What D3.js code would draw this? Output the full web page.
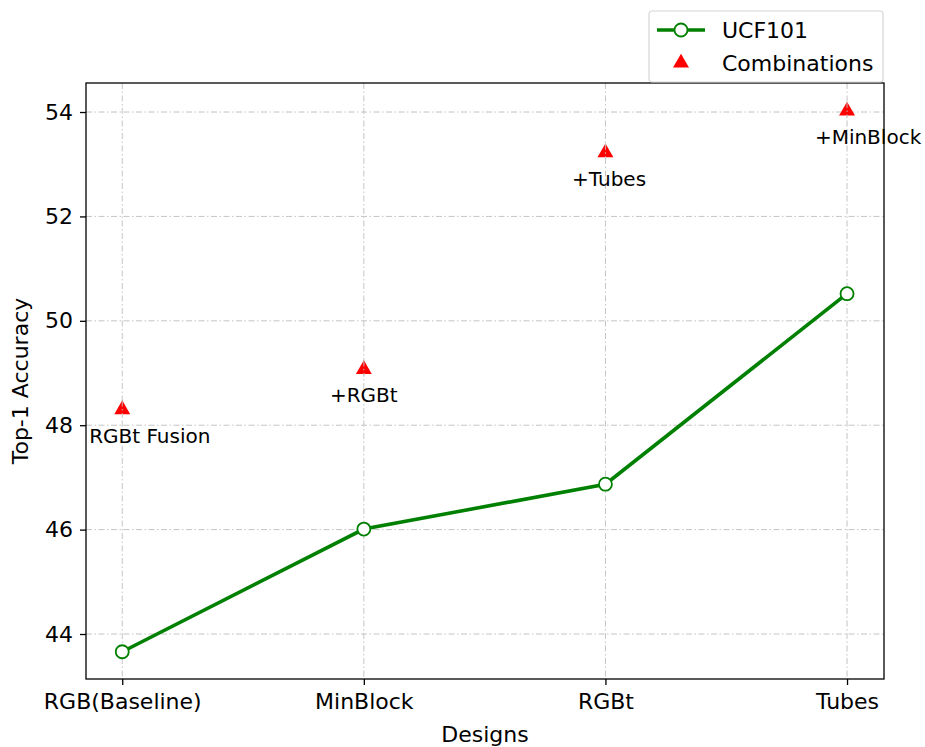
<!DOCTYPE html>
<html>
<head>
<meta charset="utf-8">
<script src="https://cdn.jsdelivr.net/npm/d3@7"></script>
<style>
  body { margin: 0; background: #fff; }
  svg { font-family: "DejaVu Sans", sans-serif; }
</style>
</head>
<body>
<div id="app"></div>
<script>
const designs = ['RGB(Baseline)', 'MinBlock', 'RGBt', 'Tubes'];
const ucf101 = [43.66, 46.01, 46.87, 50.52];
const combos = [48.30, 49.07, 53.22, 54.02];
const comboLabels = ['RGBt Fusion', '+RGBt', '+Tubes', '+MinBlock'];
const yTicks = [44, 46, 48, 50, 52, 54];

const width = 925;
const height = 747;
const margin = { top: 83, right: 41, bottom: 68, left: 86 };

// label nudges (data units), first and last are shifted right in the original
const labelDx = [0.114, 0, 0.015, 0.087];

const svg = d3.select('#app')
  .append('svg')
  .attr('width', width)
  .attr('height', height);

const xScale = d3.scaleLinear()
  .domain([-0.15, 3.153])
  .range([margin.left, width - margin.right]);

const yScale = d3.scaleLinear()
  .domain([43.138, 54.556])
  .range([height - margin.bottom, margin.top]);

const plotW = width - margin.left - margin.right;
const plotH = height - margin.top - margin.bottom;
const gridDash = '6,2.5,1.5,2.5';

// grid
const grid = svg.append('g');
grid.selectAll('.vg')
  .data(designs)
  .enter()
  .append('line')
  .attr('x1', (d, i) => xScale(i))
  .attr('x2', (d, i) => xScale(i))
  .attr('y1', margin.top)
  .attr('y2', height - margin.bottom)
  .attr('stroke', '#c4c4c4')
  .attr('stroke-width', 1)
  .attr('stroke-dasharray', gridDash);
grid.selectAll('.hg')
  .data(yTicks)
  .enter()
  .append('line')
  .attr('x1', margin.left)
  .attr('x2', width - margin.right)
  .attr('y1', d => yScale(d))
  .attr('y2', d => yScale(d))
  .attr('stroke', '#c4c4c4')
  .attr('stroke-width', 1)
  .attr('stroke-dasharray', gridDash);

// triangles (scatter)
const tri = d3.symbol().type(d3.symbolTriangle).size(110);
svg.append('g')
  .selectAll('path')
  .data(combos)
  .enter()
  .append('path')
  .attr('d', tri)
  .attr('transform', (d, i) => `translate(${xScale(i)},${yScale(d)})`)
  .attr('fill', 'red');

// grid sits above the scatter in matplotlib, redraw a short piece over each triangle
svg.append('g')
  .selectAll('line')
  .data(combos)
  .enter()
  .append('line')
  .attr('x1', (d, i) => xScale(i))
  .attr('x2', (d, i) => xScale(i))
  .attr('y1', d => yScale(d) - 9)
  .attr('y2', d => yScale(d) + 7)
  .attr('stroke', '#c4c4c4')
  .attr('stroke-width', 1)
  .attr('stroke-dasharray', gridDash)
  .attr('opacity', 0.9);

svg.append('g')
  .selectAll('text')
  .data(combos)
  .enter()
  .append('text')
  .attr('x', (d, i) => xScale(i + labelDx[i]))
  .attr('y', d => yScale(d - 0.5))
  .attr('dy', '0.35em')
  .attr('text-anchor', 'middle')
  .attr('font-size', 20)
  .attr('fill', '#000')
  .text((d, i) => comboLabels[i]);

// line
const line = d3.line()
  .x((d, i) => xScale(i))
  .y(d => yScale(d));

svg.append('path')
  .datum(ucf101)
  .attr('d', line)
  .attr('fill', 'none')
  .attr('stroke', 'green')
  .attr('stroke-width', 3.6);

svg.append('g')
  .selectAll('circle')
  .data(ucf101)
  .enter()
  .append('circle')
  .attr('cx', (d, i) => xScale(i))
  .attr('cy', d => yScale(d))
  .attr('r', 6.5)
  .attr('fill', '#fff')
  .attr('stroke', 'green')
  .attr('stroke-width', 1.8);

// frame
svg.append('rect')
  .attr('x', margin.left)
  .attr('y', margin.top)
  .attr('width', plotW)
  .attr('height', plotH)
  .attr('fill', 'none')
  .attr('stroke', '#000')
  .attr('stroke-width', 1.3);

// axes
const xAxis = svg.append('g')
  .attr('transform', `translate(0, ${height - margin.bottom})`)
  .call(d3.axisBottom(xScale)
    .tickValues(d3.range(designs.length))
    .tickFormat(i => designs[i])
    .tickSize(6)
    .tickPadding(8));

const yAxis = svg.append('g')
  .attr('transform', `translate(${margin.left}, 0)`)
  .call(d3.axisLeft(yScale)
    .tickValues(yTicks)
    .tickSize(6)
    .tickPadding(7));

[xAxis, yAxis].forEach(ax => {
  ax.select('.domain').remove();
  ax.selectAll('.tick line').attr('stroke', '#000').attr('stroke-width', 1.3);
  ax.selectAll('.tick text')
    .attr('font-size', 22)
    .attr('font-family', '"DejaVu Sans", sans-serif')
    .attr('fill', '#000');
});

svg.append('text')
  .attr('x', margin.left + plotW / 2)
  .attr('y', 742)
  .attr('text-anchor', 'middle')
  .attr('font-size', 22)
  .text('Designs');

svg.append('text')
  .attr('transform', `translate(28, ${margin.top + plotH / 2}) rotate(-90)`)
  .attr('text-anchor', 'middle')
  .attr('font-size', 22)
  .text('Top-1 Accuracy');

// legend
const lg = svg.append('g').attr('transform', 'translate(649, 11)');
lg.append('rect')
  .attr('width', 234)
  .attr('height', 71)
  .attr('rx', 3)
  .attr('fill', '#fff')
  .attr('stroke', '#d6d6d6')
  .attr('stroke-width', 1.2);
lg.append('line')
  .attr('x1', 8).attr('x2', 56)
  .attr('y1', 19).attr('y2', 19)
  .attr('stroke', 'green')
  .attr('stroke-width', 3.6);
lg.append('circle')
  .attr('cx', 32).attr('cy', 19).attr('r', 6.5)
  .attr('fill', '#fff')
  .attr('stroke', 'green')
  .attr('stroke-width', 1.8);
lg.append('path')
  .attr('d', tri)
  .attr('transform', 'translate(32, 52)')
  .attr('fill', 'red');
lg.selectAll('.lt')
  .data(['UCF101', 'Combinations'])
  .enter()
  .append('text')
  .attr('x', 73)
  .attr('y', (d, i) => 19 + i * 33)
  .attr('dy', '0.35em')
  .attr('font-size', 22)
  .text(d => d);
</script>
</body>
</html>
